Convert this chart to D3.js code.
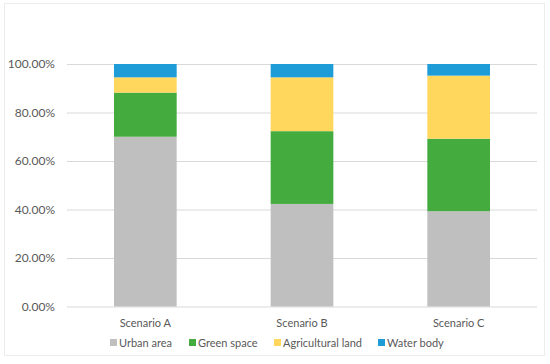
<!DOCTYPE html>
<html>
<head>
<meta charset="utf-8">
<script src="https://cdn.jsdelivr.net/npm/d3@7"></script>
<style>
  body { margin: 0; background: #fff; }
  svg text { font-family: Lato, "Open Sans", sans-serif; fill: #595959; }
  .grid line { stroke: #d9d9d9; }
  .grid path { display: none; }
</style>
</head>
<body>
<svg id="landChart" width="550" height="364"></svg>
<script>
const scenarios = ['Scenario A', 'Scenario B', 'Scenario C'];
const landTypes = ['Urban area', 'Green space', 'Agricultural land', 'Water body'];
const urbanArea = [70.0, 42.3, 39.3];
const greenSpace = [18.2, 30.0, 29.9];
const agriculturalLand = [6.3, 22.2, 26.0];
const waterBody = [5.5, 5.5, 4.8];
const yTicks = [0, 20, 40, 60, 80, 100];
const colors = ['#bfbfbf', '#44ab3f', '#ffd75d', '#1d9cd8'];

const rows = scenarios.map((s, i) => ({
    scenario: s,
    'Urban area': urbanArea[i],
    'Green space': greenSpace[i],
    'Agricultural land': agriculturalLand[i],
    'Water body': waterBody[i]
}));

const svg = d3.select('svg#landChart');

// outer frame
svg.append('rect')
    .attr('x', 4.5).attr('y', 3.5)
    .attr('width', 540).attr('height', 352)
    .attr('fill', 'none')
    .attr('stroke', '#ececec');

const plotLeft = 67, plotRight = 537, plotTop = 64, plotBottom = 306.5;
const plotW = plotRight - plotLeft, plotH = plotBottom - plotTop;

const chart = svg.append('g')
    .attr('transform', `translate(${plotLeft}, ${plotTop})`);

const yScale = d3.scaleLinear()
    .range([plotH, 0])
    .domain([0, 100]);

const xScale = d3.scaleBand()
    .range([0, plotW])
    .domain(scenarios)
    .paddingInner(0.6)
    .paddingOuter(0.3);

// gridlines
chart.append('g')
    .attr('class', 'grid')
    .call(d3.axisLeft(yScale)
        .tickValues(yTicks)
        .tickSize(-plotW)
        .tickFormat(''));

// y labels
chart.append('g')
    .selectAll('text')
    .data(yTicks)
    .enter()
    .append('text')
    .attr('x', -12)
    .attr('y', d => yScale(d))
    .attr('dy', '0.35em')
    .attr('text-anchor', 'end')
    .style('font-size', '12px')
    .text(d => d.toFixed(2) + '%');

const stack = d3.stack().keys(landTypes)(rows);
const color = d3.scaleOrdinal().domain(landTypes).range(colors);

chart.selectAll('g.layer')
    .data(stack)
    .enter()
    .append('g')
    .attr('class', 'layer')
    .attr('fill', d => color(d.key))
    .selectAll('rect')
    .data(d => d)
    .enter()
    .append('rect')
    .attr('x', d => xScale(d.data.scenario))
    .attr('y', d => yScale(d[1]))
    .attr('height', d => yScale(d[0]) - yScale(d[1]))
    .attr('width', xScale.bandwidth());

// x labels
chart.append('g')
    .selectAll('text')
    .data(scenarios)
    .enter()
    .append('text')
    .attr('x', d => xScale(d) + xScale.bandwidth() / 2)
    .attr('y', plotH + 20)
    .attr('text-anchor', 'middle')
    .style('font-size', '11px')
    .text(d => d);

// legend
const legendX = [110, 189, 274, 378];
const legend = svg.append('g')
    .selectAll('g')
    .data(landTypes)
    .enter()
    .append('g')
    .attr('transform', (d, i) => `translate(${legendX[i]}, 343)`);

legend.append('rect')
    .attr('x', 0).attr('y', -4)
    .attr('width', 7).attr('height', 7)
    .attr('fill', d => color(d));

legend.append('text')
    .attr('x', 9)
    .attr('dy', '0.35em')
    .style('font-size', '11px')
    .text(d => d);
</script>
</body>
</html>
